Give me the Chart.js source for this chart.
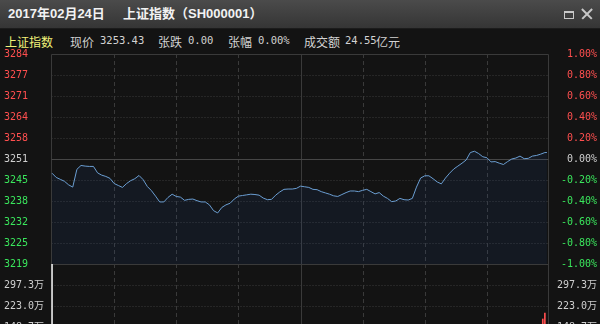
<!DOCTYPE html>
<html>
<head>
<meta charset="utf-8">
<script src="https://cdn.jsdelivr.net/npm/chart.js@4.4.0/dist/chart.umd.min.js"></script>
<style>
  html, body { margin: 0; padding: 0; width: 600px; height: 324px; overflow: hidden; background: #131313; }
  #titlebar { position: absolute; left: 0; top: 0; width: 600px; height: 28px; background: linear-gradient(#4b4b4b, #353535); border-bottom: 1px solid #1c1c1c; }
  .t { position: absolute; top: 6px; font: bold 13px "Liberation Sans", "Noto Sans CJK SC", sans-serif; color: #f2f2f2; line-height: 16px; white-space: nowrap; }
  .i { position: absolute; top: 33px; line-height: 14px; white-space: nowrap; color: #d2d2d2; }
  .cjk { font: 12px "Noto Sans CJK SC", sans-serif; }
  .num { font: 10.5px "DejaVu Sans Mono", monospace; }
  #btnMax { position: absolute; left: 564px; top: 11px; width: 8px; height: 5px; border: 1px solid #c8c8c8; border-top-width: 2px; }
  .x { position: absolute; left: 580px; top: 13px; width: 14px; height: 1.5px; background: #c8c8c8; }
  #chart { position: absolute; left: 0; top: 44px; }
</style>
</head>
<body>
<div id="titlebar">
  <span class="t" style="left:8px">2017年02月24日</span>
  <span class="t" style="left:123px">上证指数（SH000001）</span>
  <div id="btnMax"></div>
  <div class="x" style="transform: rotate(45deg)"></div>
  <div class="x" style="transform: rotate(-45deg)"></div>
</div>
<span class="i cjk" style="left:5px; color:#f2f27a">上证指数</span>
<span class="i cjk" style="left:70px">现价</span><span class="i num" style="left:100px; top:34px">3253.43</span>
<span class="i cjk" style="left:158px">张跌</span><span class="i num" style="left:188px; top:34px">0.00</span>
<span class="i cjk" style="left:228px">张幅</span><span class="i num" style="left:258px; top:34px">0.00%</span>
<span class="i cjk" style="left:304px">成交额</span><span class="i num" style="left:345px; top:34px">24.55</span><span class="i cjk" style="left:376px">亿元</span>
<canvas id="chart" width="600" height="340"></canvas>
<script>
// previous close and minute data (minutes after 9:30, lunch break removed)
let prevClose = 3251.4;
let minutes = [0, 2, 4, 6, 8, 10, 12, 14, 16, 18, 20, 22, 24, 26, 28, 30, 32, 34, 36, 38,
    40, 42, 44, 46, 48, 50, 52, 54, 56, 58, 60, 62, 64, 66, 68, 70, 72, 74, 76, 78,
    80, 82, 84, 86, 88, 90, 92, 94, 96, 98, 100, 102, 104, 106, 108, 110, 112, 114, 116, 118,
    120, 122, 124, 126, 128, 130, 132, 134, 136, 138, 140, 142, 144, 146, 148, 150, 152, 154, 156, 158,
    160, 162, 164, 166, 168, 170, 172, 174, 176, 178, 180, 182, 184, 186, 188, 190, 192, 194, 196, 198,
    200, 202, 204, 206, 208, 210, 212, 214, 216, 218, 220, 222, 224, 226, 228, 230, 232, 234, 236, 238, 239];
let prices = [3247.0, 3245.7, 3245.1, 3244.5, 3243.4, 3242.7, 3248.2, 3249.4, 3249.2, 3249.1,
    3249.1, 3247.1, 3246.4, 3246.0, 3245.4, 3243.8, 3243.2, 3242.6, 3243.8, 3244.7,
    3245.3, 3246.3, 3245.0, 3242.9, 3241.6, 3239.9, 3238.1, 3238.1, 3239.5, 3240.5,
    3239.8, 3239.6, 3238.6, 3238.9, 3239.0, 3238.5, 3238.1, 3238.1, 3237.2, 3235.4,
    3234.7, 3236.4, 3237.2, 3237.7, 3239.0, 3239.9, 3240.1, 3240.3, 3240.5, 3240.4,
    3240.2, 3239.3, 3238.8, 3238.9, 3240.2, 3241.2, 3242.0, 3242.1, 3242.1, 3242.3,
    3243.0, 3242.8, 3242.6, 3242.0, 3241.9, 3241.3, 3240.9, 3240.5, 3240.0, 3239.8,
    3240.4, 3241.0, 3241.5, 3241.5, 3241.3, 3241.7, 3242.0, 3241.3, 3240.6, 3241.0,
    3239.9, 3239.2, 3238.2, 3238.4, 3239.2, 3238.8, 3238.7, 3239.2, 3242.7, 3245.5,
    3246.2, 3246.2, 3245.3, 3244.3, 3243.7, 3245.5, 3247.0, 3248.3, 3249.2, 3250.1,
    3251.1, 3253.4, 3253.8, 3253.1, 3252.1, 3251.8, 3250.5, 3250.6, 3250.1, 3249.7,
    3250.6, 3251.4, 3251.7, 3252.3, 3251.5, 3251.6, 3252.3, 3252.5, 3252.9, 3253.4, 3253.4];
// only the volume bars that show in the picture (万手)
let volMinutes = [0, 237, 238];
let volumes = [371.6, 177, 198];

let priceLabels = ['3284', '3277', '3271', '3264', '3258', '3251', '3245', '3238', '3232', '3225', '3219'];
let pctLabels = ['1.00%', '0.80%', '0.60%', '0.40%', '0.20%', '0.00%', '-0.20%', '-0.40%', '-0.60%', '-0.80%', '-1.00%'];
let volLabels = ['297.3万', '223.0万', '148.7万', '74.3万'];
let volTickValues = [297.3, 223.0, 148.7, 74.3];

let red = '#ff4f4f';
let green = '#3ae65c';
let grey = '#cfcfcf';
let gridColor = '#3a3a3a';
let tickFont = { family: '"DejaVu Sans Mono", "Noto Sans CJK SC", monospace', size: 10 };

// tick value for each 0.2% step, top to bottom
function pctTick(i) {
    return prevClose * (1 + (1 - i * 0.2) / 100);
}

function priceColor(ctx) {
    let i = ctx.index;
    if (i < 5) return red;
    if (i > 5) return green;
    return grey;
}

function fitLeft(scale) {
    scale.width = 47;
    scale.paddingTop = 0;
    scale.paddingBottom = 0;
}
function fitRight(scale) {
    scale.width = 48;
    scale.paddingTop = 0;
    scale.paddingBottom = 0;
}

// frame, dotted grid and session dividers
let gridPlugin = {
    id: 'grid',
    beforeDatasetsDraw(chart) {
        let ctx = chart.ctx;
        let x = chart.scales.x;
        let y = chart.scales.y;
        let v = chart.scales.v;
        let left = Math.round(x.left) + 0.5;
        let right = Math.round(x.right) - 0.5;
        let bottom = v.bottom + 20;
        ctx.save();
        ctx.lineWidth = 1;
        ctx.strokeStyle = gridColor;

        // dotted horizontals
        ctx.setLineDash([1, 2]);
        for (let i = 1; i < 10; i++) {
            if (i === 5) continue;
            let py = Math.round(y.getPixelForValue(pctTick(i))) + 0.5;
            ctx.beginPath(); ctx.moveTo(left, py); ctx.lineTo(right, py); ctx.stroke();
        }
        for (let val of volTickValues) {
            let py = Math.round(v.getPixelForValue(val)) + 0.5;
            ctx.beginPath(); ctx.moveTo(left, py); ctx.lineTo(right, py); ctx.stroke();
        }

        // dashed verticals every half hour
        ctx.setLineDash([4, 3]);
        for (let m of [30, 60, 90, 150, 180, 210]) {
            let px = Math.round(x.getPixelForValue(m)) + 0.5;
            ctx.beginPath(); ctx.moveTo(px, y.top); ctx.lineTo(px, bottom); ctx.stroke();
        }

        // solid lines
        ctx.setLineDash([]);
        let mid = Math.round(x.getPixelForValue(120)) + 0.5;
        ctx.beginPath(); ctx.moveTo(mid, y.top); ctx.lineTo(mid, bottom); ctx.stroke();
        let top = Math.round(y.top) + 0.5;
        let sep = Math.round(y.bottom) + 0.5;
        let pc = Math.round(y.getPixelForValue(prevClose)) + 0.5;
        ctx.beginPath();
        ctx.moveTo(left, sep); ctx.lineTo(left, top); ctx.lineTo(right, top); ctx.lineTo(right, bottom);
        ctx.moveTo(left, sep); ctx.lineTo(right, sep);
        ctx.stroke();
        ctx.strokeStyle = '#464646';
        ctx.beginPath(); ctx.moveTo(left, pc); ctx.lineTo(right, pc); ctx.stroke();
        ctx.restore();
    }
};

let lineData = minutes.map((m, i) => ({ x: m, y: prices[i] }));
let volData = volMinutes.map((m, i) => ({ x: m, y: volumes[i] }));

let chartCtx = document.getElementById('chart').getContext('2d');
let minuteChart = new Chart(chartCtx, {
    data: {
        datasets: [
            {
                type: 'line',
                data: lineData,
                xAxisID: 'x',
                yAxisID: 'y',
                borderColor: '#6b9ed2',
                borderWidth: 1,
                pointRadius: 0,
                tension: 0,
                fill: 'start',
                backgroundColor: 'rgba(30, 80, 170, 0.10)'
            },
            {
                type: 'bar',
                data: volData,
                xAxisID: 'x',
                yAxisID: 'v',
                barThickness: 1,
                backgroundColor: (c) => c.index === 0 ? '#e6e6e6' : '#ff4f4f'
            }
        ]
    },
    options: {
        responsive: false,
        animation: false,
        devicePixelRatio: 1,
        layout: { padding: { left: 4, right: 3, top: 10, bottom: 15 } },
        plugins: { legend: { display: false }, tooltip: { enabled: false } },
        scales: {
            x: { type: 'linear', min: -0.5, max: 240, offset: false, display: false },
            // left boxes are laid out in reverse, so the price axis gets the higher weight to sit on top
            y: {
                position: 'left', stack: 'left', stackWeight: 2, weight: 1,
                min: prevClose * 0.99, max: prevClose * 1.01,
                grid: { display: false }, border: { display: false },
                afterBuildTicks: (s) => { s.ticks = priceLabels.map((l, i) => ({ value: pctTick(i) })); },
                afterFit: fitLeft,
                ticks: { crossAlign: 'far', padding: 0, autoSkip: false, font: tickFont, color: priceColor,
                    callback: (val, i) => priceLabels[i] }
            },
            v: {
                position: 'left', stack: 'left', stackWeight: 1, weight: 0,
                min: 0, max: 371.6,
                grid: { display: false }, border: { display: false },
                afterBuildTicks: (s) => { s.ticks = volTickValues.map(val => ({ value: val })); },
                afterFit: fitLeft,
                ticks: { crossAlign: 'far', padding: 0, autoSkip: false, font: tickFont, color: grey,
                    callback: (val, i) => volLabels[i] }
            },
            yR: {
                position: 'right', stack: 'right', stackWeight: 2, weight: 0,
                min: prevClose * 0.99, max: prevClose * 1.01,
                grid: { display: false }, border: { display: false },
                afterBuildTicks: (s) => { s.ticks = pctLabels.map((l, i) => ({ value: pctTick(i) })); },
                afterFit: fitRight,
                ticks: { crossAlign: 'far', padding: 0, autoSkip: false, font: tickFont, color: priceColor,
                    callback: (val, i) => pctLabels[i] }
            },
            vR: {
                position: 'right', stack: 'right', stackWeight: 1, weight: 1,
                min: 0, max: 371.6,
                grid: { display: false }, border: { display: false },
                afterBuildTicks: (s) => { s.ticks = volTickValues.map(val => ({ value: val })); },
                afterFit: fitRight,
                ticks: { crossAlign: 'far', padding: 0, autoSkip: false, font: tickFont, color: grey,
                    callback: (val, i) => volLabels[i] }
            }
        }
    },
    plugins: [gridPlugin]
});
</script>
</body>
</html>
